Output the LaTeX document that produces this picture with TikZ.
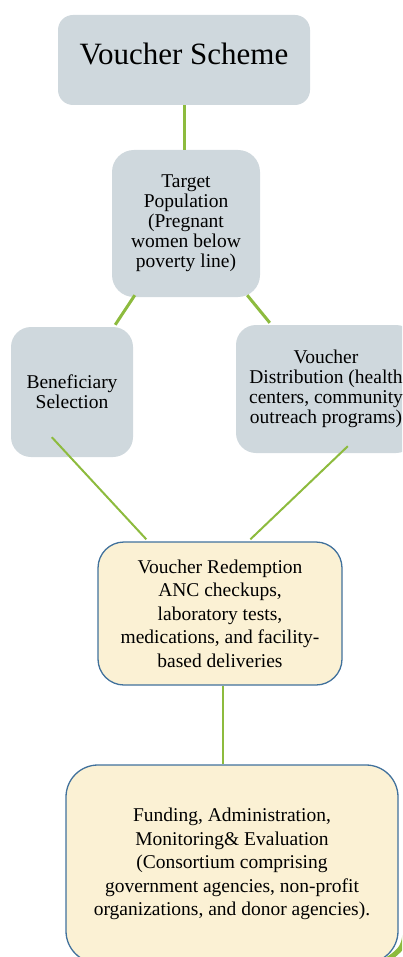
\documentclass[tikz,border=0pt]{standalone}
\usepackage{fontspec}
\setmainfont{Liberation Serif}
\usetikzlibrary{calc}
\definecolor{vsgrey}{RGB}{207,216,221}
\definecolor{vscream}{RGB}{251,241,212}
\definecolor{vsblue}{RGB}{65,113,156}
\definecolor{vsgreen}{RGB}{141,187,62}

\begin{document}
\begin{tikzpicture}[x=1pt,y=-1pt,
    greybox/.style={fill=vsgrey,rounded corners=20pt,align=center,inner sep=0pt,font=\fontsize{19.5}{20}\selectfont},
    creambox/.style={fill=vscream,draw=vsblue,line width=1.3pt,rounded corners=26pt,align=center,inner sep=0pt,font=\fontsize{19.5}{23.5}\selectfont},
    link/.style={draw=vsgreen,line width=2pt}]
    \useasboundingbox (0,0) rectangle (402,957);
    \clip (0,0) rectangle (402,957);
    % boxes
    \node[greybox,rounded corners=15pt,minimum width=252pt,minimum height=90pt,text depth=12pt,font=\fontsize{31}{36}\selectfont] (scheme) at (184,60) {Voucher Scheme};
    \node[greybox,rounded corners=22pt,minimum width=148pt,minimum height=147pt] (target) at (186,223.5) {Target\\Population\\(Pregnant\\women below\\poverty line)};
    \node[greybox,minimum width=122pt,minimum height=130pt] (ben) at (72,392) {Beneficiary\\Selection};
    \node[greybox,minimum width=180pt,minimum height=128pt] (dist) at (326,389) {Voucher\\Distribution (health\\centers, community\\outreach programs)};
    \node[creambox,minimum width=244pt,minimum height=143pt] (red) at (220,613.5) {Voucher Redemption\\ANC checkups,\\laboratory tests,\\medications, and facility-\\based deliveries};
    \node[creambox,rounded corners=32pt,minimum width=332pt,minimum height=198pt] (fund) at (232,864) {Funding, Administration,\\Monitoring\& Evaluation\\(Consortium comprising\\government agencies, non-profit\\organizations, and donor agencies).};
    % connectors
    \draw[link,line width=3pt] (scheme.south) -- (scheme.south |- target.north);
    \draw[link,line width=3pt] ($(target.south west)+(23,-2)$) -- ($(ben.north east)+(-18,-2)$);
    \draw[link,line width=3pt] ($(target.south east)+(-13,-2)$) -- ($(dist.north west)+(34,-2)$);
    \draw[link] ($(ben.south west)+(41,-20)$) -- ($(red.north west)+(49,-2)$);
    \draw[link] ($(dist.south west)+(112,-7)$) -- ($(red.north west)+(153,-2)$);
    \draw[link] ($(red.south)+(3,0)$) -- ($(red.south |- fund.north)+(3,0)$);
    \draw[vsgreen,line width=5pt] (406,922) .. controls (404,948) .. (384,962);
\end{tikzpicture}
\end{document}
